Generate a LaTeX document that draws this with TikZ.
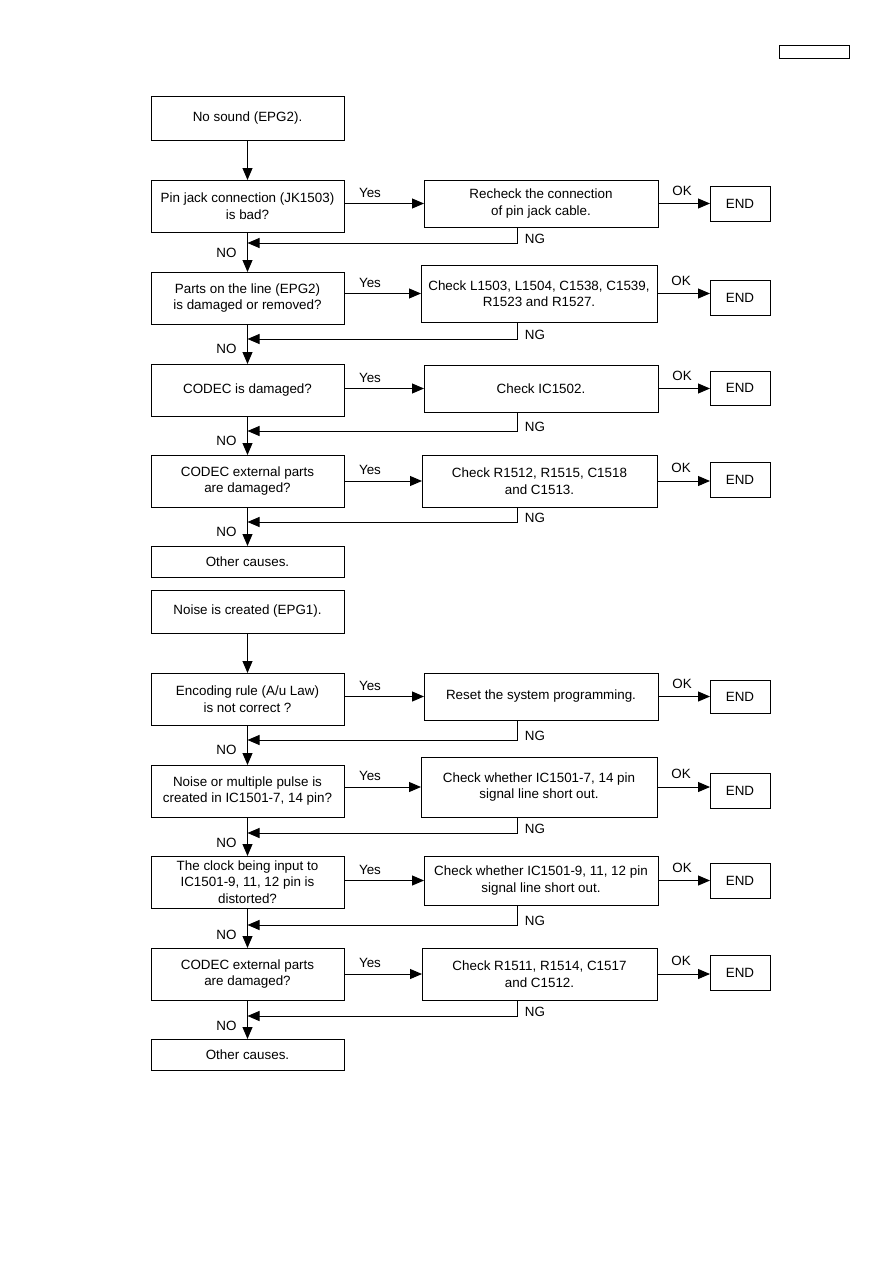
\documentclass[tikz,border=0pt]{standalone}
\usepackage{fontspec}
\setmainfont{Liberation Sans}
\usetikzlibrary{arrows.meta}
\newcommand\fbx[6]{\node[box, minimum width={#4-#2}, minimum height={#5-#3}] (#1) at ({(#2+#4)/2},{(#3+#5)/2}) {#6};}
\begin{document}
\begin{tikzpicture}[x=1pt,y=-1pt,
 box/.style={draw, line width=1pt, inner sep=0pt, outer sep=0pt, align=center, font=\fontsize{13.4}{16.5}\selectfont},
 arr/.style={line width=1pt, -{Triangle[length=12pt,width=10pt]}},
 lbl/.style={font=\fontsize{13.4}{15}\selectfont, inner sep=0pt}]
\useasboundingbox (0,0) rectangle (893,1263);

% header box
\fbx{hdr}{779}{46}{849}{59}{}

% left column
\fbx{B1}{151}{96}{344}{140}{No sound (EPG2).}
\fbx{B2}{151}{180}{344}{232}{Pin jack connection (JK1503)\\is bad?}
\fbx{B3}{151}{272}{344}{324}{Parts on the line (EPG2)\\is damaged or removed?}
\fbx{B4}{151}{364}{344}{416}{CODEC is damaged?}
\fbx{B5}{151}{455}{344}{507}{CODEC external parts\\are damaged?}
\fbx{B6}{151}{546}{344}{577}{Other causes.}
\fbx{B7}{151}{590}{344}{633}{Noise is created (EPG1).}
\fbx{B8}{151}{673}{344}{725}{Encoding rule (A/u Law)\\is not correct ?}
\fbx{B9}{151}{765}{344}{817}{Noise or multiple pulse is\\created in IC1501-7, 14 pin?}
\fbx{B10}{151}{856}{344}{908}{The clock being input to\\IC1501-9, 11, 12 pin is\\distorted?}
\fbx{B11}{151}{948}{344}{1000}{CODEC external parts\\are damaged?}
\fbx{B12}{151}{1039}{344}{1070}{Other causes.}

% middle column
\fbx{M1}{424}{180}{658}{227}{Recheck the connection\\of pin jack cable.}
\fbx{M2}{421}{265}{657}{322}{Check L1503, L1504, C1538, C1539,\\R1523 and R1527.}
\fbx{M3}{424}{365}{658}{412}{Check IC1502.}
\fbx{M4}{422}{455}{657}{507}{Check R1512, R1515, C1518\\and C1513.}
\fbx{M5}{424}{673}{658}{720}{Reset the system programming.}
\fbx{M6}{421}{757}{657}{817}{Check whether IC1501-7, 14 pin\\signal line short out.}
\fbx{M7}{424}{856}{658}{905}{Check whether IC1501-9, 11, 12 pin\\signal line short out.}
\fbx{M8}{422}{948}{657}{1000}{Check R1511, R1514, C1517\\and C1512.}

% END boxes
\fbx{E1}{710}{186}{770}{221}{END}
\fbx{E2}{710}{280}{770}{315}{END}
\fbx{E3}{710}{371}{770}{405}{END}
\fbx{E4}{710}{462}{770}{497}{END}
\fbx{E5}{710}{680}{770}{713}{END}
\fbx{E6}{710}{773}{770}{808}{END}
\fbx{E7}{710}{863}{770}{898}{END}
\fbx{E8}{710}{955}{770}{990}{END}

% NG turn coordinates
\coordinate (n1) at (517,243);
\coordinate (n2) at (517,339);
\coordinate (n3) at (517,431);
\coordinate (n4) at (517,522);
\coordinate (n5) at (517,740);
\coordinate (n6) at (517,833);
\coordinate (n7) at (517,925);
\coordinate (n8) at (517,1016);

% down arrows
\draw[arr] (B1.south) -- (B2.north);
\draw[arr] (B2.south) -- (B3.north);
\draw[arr] (B3.south) -- (B4.north);
\draw[arr] (B4.south) -- (B5.north);
\draw[arr] (B5.south) -- (B6.north);
\draw[arr] (B7.south) -- (B8.north);
\draw[arr] (B8.south) -- (B9.north);
\draw[arr] (B9.south) -- (B10.north);
\draw[arr] (B10.south) -- (B11.north);
\draw[arr] (B11.south) -- (B12.north);

% rows
\foreach \b/\m/\e/\n in {B2/M1/E1/n1, B3/M2/E2/n2, B4/M3/E3/n3, B5/M4/E4/n4, B8/M5/E5/n5, B9/M6/E6/n6, B10/M7/E7/n7, B11/M8/E8/n8}{
  \draw[arr] (\m.west -| \b.east) -- (\m.west);
  \draw[arr] (\m.east) -- (\m.east -| \e.west);
  \draw[arr] (\m.south -| \n) -- (\n) -- (\n -| \b.south);
  \path (\m.west -| \b.east) ++(26,-11) node[lbl] {Yes};
  \path (\m.east) ++(24,-13) node[lbl] {OK};
  \path (\n) ++(18,-4) node[lbl] {NG};
  \path (\n -| \b.south) ++(-21,10) node[lbl] {NO};
}
\end{tikzpicture}
\end{document}
